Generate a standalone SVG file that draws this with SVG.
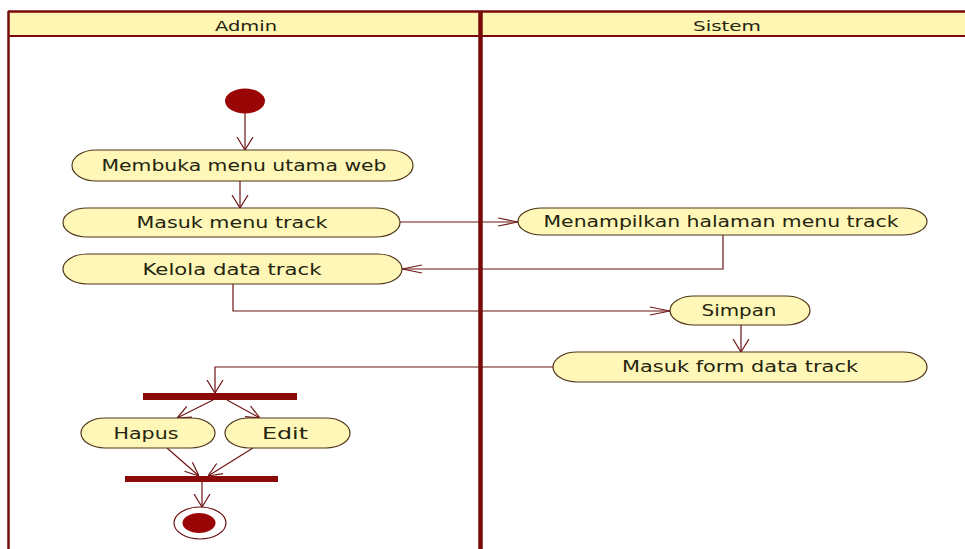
<svg xmlns="http://www.w3.org/2000/svg" width="965" height="549" viewBox="0 0 965 549">
  <style>
    .lane-head { fill: #fff6b4; }
    .frame { stroke: #7a0a0a; fill: none; }
    .node rect { fill: #fff7b8; stroke: #4e3418; stroke-width: 1.2; }
    .label { font-family: "DejaVu Sans", "Liberation Sans", sans-serif; font-size: 15px; fill: #24240f; text-anchor: middle; }
    .head { font-family: "DejaVu Sans", "Liberation Sans", sans-serif; font-size: 14px; fill: #24240f; text-anchor: middle; }
    .flow { stroke: #6e1414; stroke-width: 1.2; fill: none; }
    .bar { fill: #8a0a0a; }
    .dot { fill: #9a0606; }
  </style>
  <defs>
    <!-- open arrowheads: horizontal flows are long and narrow, vertical ones short and wide -->
    <marker id="arrH" markerUnits="userSpaceOnUse" viewBox="0 0 20 10" refX="20" refY="5" markerWidth="20" markerHeight="10" orient="auto">
      <path d="M0,1 L20,5 L0,9" fill="none" stroke="#6e1414" stroke-width="1.2"/>
    </marker>
    <marker id="arrV" markerUnits="userSpaceOnUse" viewBox="0 0 13 18" refX="13" refY="9" markerWidth="13" markerHeight="18" orient="auto">
      <path d="M0,1 L13,9 L0,17" fill="none" stroke="#6e1414" stroke-width="1.2"/>
    </marker>
    <marker id="arrD" markerUnits="userSpaceOnUse" viewBox="0 0 14 14" refX="14" refY="7" markerWidth="14" markerHeight="14" orient="auto">
      <path d="M0,1 L14,7 L0,13" fill="none" stroke="#6e1414" stroke-width="1.2"/>
    </marker>
  </defs>

  <rect width="965" height="549" fill="#ffffff"/>

  <!-- swimlanes -->
  <g id="lanes">
    <rect class="lane-head" x="9" y="12" width="956" height="24"/>
    <line class="frame" x1="8" y1="11.5" x2="965" y2="11.5" stroke-width="2.5"/>
    <line class="frame" x1="8" y1="36" x2="965" y2="36" stroke-width="2"/>
    <line class="frame" x1="8.5" y1="11" x2="8.5" y2="549" stroke-width="2.5"/>
    <line class="frame" x1="480.5" y1="11" x2="480.5" y2="549" stroke-width="4.5" stroke="#640410"/>
    <text class="head" x="246" y="31" textLength="62" lengthAdjust="spacingAndGlyphs">Admin</text>
    <text class="head" x="727" y="31" textLength="68" lengthAdjust="spacingAndGlyphs">Sistem</text>
  </g>

  <!-- connectors -->
  <g id="connectors">
    <line class="flow" x1="245" y1="113" x2="245" y2="150" marker-end="url(#arrV)"/>
    <line class="flow" x1="240" y1="181" x2="240" y2="208" marker-end="url(#arrV)"/>
    <line class="flow" x1="400" y1="222" x2="518" y2="222" marker-end="url(#arrH)"/>
    <polyline class="flow" points="723,235 723,269 402,269" marker-end="url(#arrH)"/>
    <polyline class="flow" points="233,284 233,311 670,311" marker-end="url(#arrH)"/>
    <line class="flow" x1="741" y1="325" x2="741" y2="352" marker-end="url(#arrV)"/>
    <polyline class="flow" points="553,367 215,367 215,393" marker-end="url(#arrV)"/>
    <line class="flow" x1="213" y1="400" x2="177" y2="418" marker-end="url(#arrD)"/>
    <line class="flow" x1="227" y1="400" x2="260" y2="418" marker-end="url(#arrD)"/>
    <line class="flow" x1="167" y1="448" x2="199" y2="476" marker-end="url(#arrD)"/>
    <line class="flow" x1="253" y1="448" x2="208" y2="476" marker-end="url(#arrD)"/>
    <line class="flow" x1="202" y1="482" x2="202" y2="507" marker-end="url(#arrV)"/>
  </g>

  <!-- start -->
  <g id="start">
    <ellipse class="dot" cx="245" cy="101" rx="20" ry="12.5"/>
  </g>

  <g id="membuka" class="node">
    <rect x="72" y="150" width="341" height="31" rx="24" ry="15.5"/>
    <text class="label" x="244" y="171" textLength="285" lengthAdjust="spacingAndGlyphs">Membuka menu utama web</text>
  </g>

  <g id="masuk-menu" class="node">
    <rect x="63" y="208" width="337" height="29" rx="24" ry="14.5"/>
    <text class="label" x="232" y="228" textLength="191" lengthAdjust="spacingAndGlyphs">Masuk menu track</text>
  </g>

  <g id="kelola" class="node">
    <rect x="63" y="254" width="339" height="30" rx="24" ry="15"/>
    <text class="label" x="232" y="275" textLength="179" lengthAdjust="spacingAndGlyphs">Kelola data track</text>
  </g>

  <g id="menampilkan" class="node">
    <rect x="518" y="208" width="409" height="27" rx="24" ry="13.5"/>
    <text class="label" x="721" y="227" textLength="355" lengthAdjust="spacingAndGlyphs">Menampilkan halaman menu track</text>
  </g>

  <g id="simpan" class="node">
    <rect x="670" y="296" width="140" height="29" rx="24" ry="14.5"/>
    <text class="label" x="739" y="316" textLength="75" lengthAdjust="spacingAndGlyphs">Simpan</text>
  </g>

  <g id="masuk-form" class="node">
    <rect x="553" y="352" width="374" height="30" rx="24" ry="15"/>
    <text class="label" x="740" y="372" textLength="236" lengthAdjust="spacingAndGlyphs">Masuk form data track</text>
  </g>

  <g id="fork">
    <rect class="bar" x="143" y="393" width="154" height="7"/>
  </g>

  <g id="hapus" class="node">
    <rect x="81" y="418" width="134" height="30" rx="24" ry="15"/>
    <text class="label" x="146" y="439" textLength="65" lengthAdjust="spacingAndGlyphs">Hapus</text>
  </g>

  <g id="edit" class="node">
    <rect x="225" y="418" width="125" height="30" rx="24" ry="15"/>
    <text class="label" x="285" y="439" textLength="46" lengthAdjust="spacingAndGlyphs">Edit</text>
  </g>

  <g id="join">
    <rect class="bar" x="125" y="476" width="153" height="6"/>
  </g>

  <!-- end -->
  <g id="end">
    <ellipse cx="200" cy="523" rx="26" ry="16" fill="#ffffff" stroke="#6e1414" stroke-width="1.2"/>
    <ellipse class="dot" cx="199" cy="523" rx="16.5" ry="10"/>
  </g>
</svg>
